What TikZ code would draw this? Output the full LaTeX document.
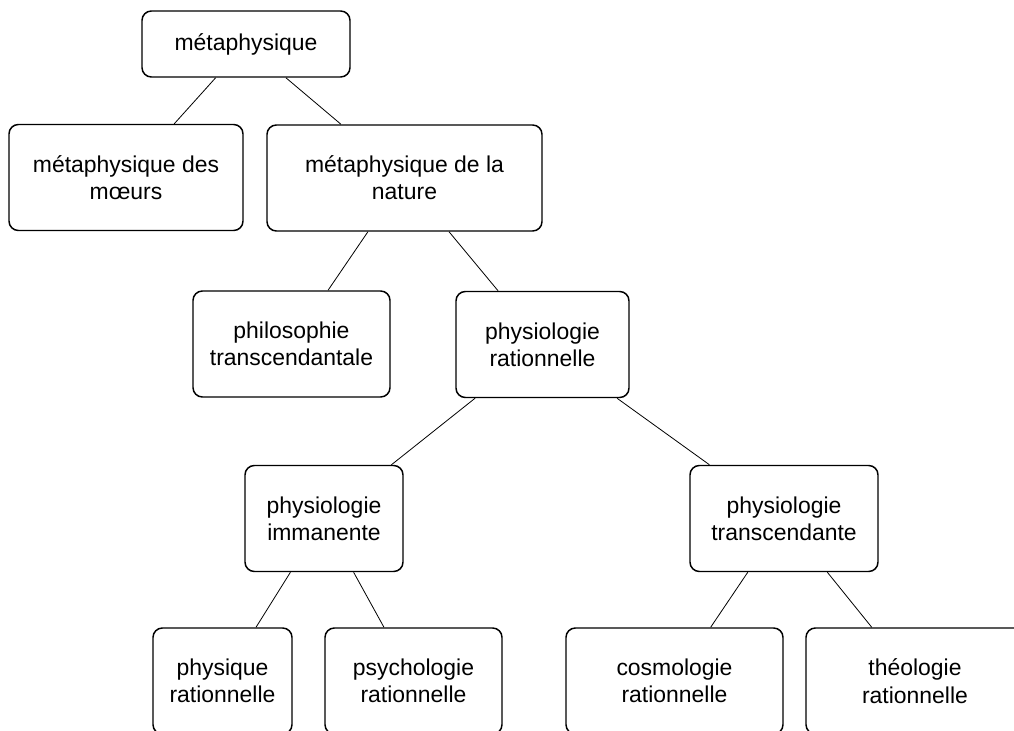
\documentclass[tikz,border=0pt]{standalone}
\usepackage{fontspec}
\setmainfont{Liberation Sans}
\usepackage{tikz}
\usepackage{xcolor}

\tikzset{
  box/.style={draw, rounded corners=7pt, line width=1.1pt, align=center, inner sep=0pt,
    minimum height=79.5pt, font=\fontsize{17.2}{20.5}\selectfont},
  link/.style={line width=0.6pt}
}

\begin{document}
\begin{tikzpicture}[x=0.75pt, y=-0.75pt]
\useasboundingbox (0,0) rectangle (1014,731);
\clip (0,0) rectangle (1014,731);
\node[box, minimum width=156pt, minimum height=49.5pt] (meta) at (246,44) {métaphysique};
\node[box, minimum width=175.5pt] (moeurs) at (126,177.5) {métaphysique des\\mœurs};
\node[box, minimum width=206.25pt] (nature) at (404.5,178) {métaphysique de la\\nature};
\node[box, minimum width=147.75pt] (philo) at (291.5,344) {philosophie\\transcendantale};
\node[box, minimum width=129.75pt] (physrat) at (542.5,344.5) {physiologie\\rationnelle};
\node[box, minimum width=118.5pt] (immanente) at (324,518.5) {physiologie\\immanente};
\node[box, minimum width=141pt] (transc) at (784,518.5) {physiologie\\transcendante};
\node[box, minimum width=104.25pt] (physique) at (222.5,681) {physique\\rationnelle};
\node[box, minimum width=132.75pt] (psycho) at (413.5,681) {psychologie\\rationnelle};
\node[box, minimum width=162.75pt] (cosmo) at (674.5,681) {cosmologie\\rationnelle};
\node[box, minimum width=163.5pt] (theo) at (915,681) {théologie\\rationnelle};

\draw[link] (meta) -- (moeurs);
\draw[link] (meta) -- (nature);
\draw[link] (nature) -- (philo);
\draw[link] (nature) -- (physrat);
\draw[link] (physrat) -- (immanente);
\draw[link] (physrat) -- (transc);
\draw[link] (immanente) -- (physique);
\draw[link] (immanente) -- (psycho);
\draw[link] (transc) -- (cosmo);
\draw[link] (transc) -- (theo);

\end{tikzpicture}
\end{document}
